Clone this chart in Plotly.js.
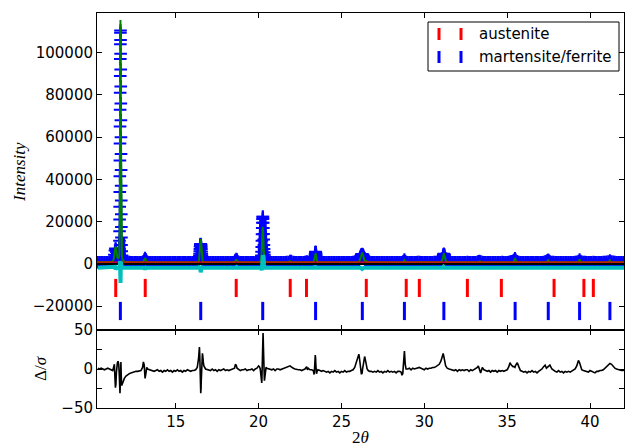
<!DOCTYPE html>
<html>
<head>
<meta charset="utf-8">
<script src="https://cdn.plot.ly/plotly-3.0.1.min.js"></script>
<style>html,body{margin:0;padding:0;background:#fff;}#plot{width:625px;height:447px;}</style>
</head>
<body>
<div id="plot"></div>
<script>
// ---- observed pattern (2theta, intensity) and normalised difference on the same points ----
const tth = [
 10.3,10.4,10.5,10.6,10.7,10.8,10.9,11.0,11.1,11.2,
 11.25,11.3,11.33,11.36,11.39,11.42,11.45,11.48,11.52,11.56,
 11.59,11.600,11.604,11.608,11.612,11.616,11.620,11.624,11.628,11.632,
 11.636,11.640,11.644,11.648,11.652,11.656,11.660,11.664,11.668,11.672,
 11.676,11.680,11.684,11.688,11.692,11.696,11.700,11.704,11.708,11.712,
 11.716,11.720,11.725,11.73,11.74,11.76,11.8,11.85,11.9,12.0,
 12.1,12.2,12.3,12.4,12.5,12.6,12.7,12.8,12.9,13.0,
 13.05,13.1,13.15,13.2,13.25,13.3,13.4,13.5,13.6,13.7,
 13.8,13.9,14.0,14.1,14.2,14.3,14.4,14.5,14.6,14.7,
 14.8,14.9,15.0,15.1,15.2,15.3,15.4,15.5,15.6,15.7,
 15.8,15.9,16.0,16.1,16.2,16.3,
 16.38,16.39,16.40,16.41,16.42,16.43,16.44,16.45,16.46,16.47,
 16.48,16.49,16.50,16.51,16.52,16.53,16.54,16.55,16.56,16.57,
 16.58,16.59,16.60,16.61,16.62,16.63,16.65,16.67,16.70,
 16.8,16.9,17.0,17.1,17.2,17.3,17.4,17.5,17.6,17.7,
 17.8,17.9,18.0,18.1,18.2,18.3,18.4,18.5,18.55,18.6,
 18.65,18.7,18.75,18.8,18.9,19.0,19.1,19.2,19.3,19.4,
 19.5,19.6,19.7,19.8,19.9,20.0,20.05,
 20.10,20.11,20.12,20.13,20.14,20.15,20.16,20.17,20.18,20.19,
 20.20,20.21,20.22,20.23,20.24,20.25,20.26,20.27,20.28,20.29,
 20.30,20.31,20.32,20.33,20.34,20.35,20.36,20.37,20.38,20.39,
 20.40,20.42,20.45,
 20.5,20.6,20.7,20.8,20.9,21.0,21.1,21.2,21.3,
 21.4,21.5,21.6,21.7,21.8,21.9,21.95,22.0,22.1,22.2,
 22.3,22.4,22.5,22.6,22.7,22.8,22.9,22.95,23.0,23.1,
 23.2,
 23.30,23.33,23.35,23.37,23.39,23.40,23.41,23.42,23.43,23.44,
 23.45,23.46,23.47,23.48,23.49,23.51,23.53,23.55,23.58,
 23.7,23.8,23.9,24.0,24.1,24.2,24.3,24.4,24.5,24.6,
 24.7,24.8,24.9,25.0,25.1,25.2,25.3,25.4,25.5,25.6,
 25.7,25.8,25.9,
 26.00,26.025,26.05,26.075,26.10,26.125,26.15,26.175,26.20,26.225,
 26.25,26.275,26.30,26.325,26.35,26.375,26.40,26.425,26.45,26.475,
 26.50,26.55,26.62,
 26.7,26.8,26.9,27.0,
 27.1,27.2,27.3,27.4,27.5,27.6,27.7,27.8,27.9,28.0,
 28.1,28.2,28.3,28.4,28.5,28.6,28.65,28.7,28.75,28.8,
 28.85,28.9,29.0,29.1,29.2,29.3,29.4,29.5,29.6,29.7,
 29.8,29.9,30.0,30.1,30.2,30.3,30.4,30.5,30.6,30.7,
 30.8,30.9,
 31.00,31.03,31.05,31.07,31.09,31.10,31.12,31.14,31.16,31.18,
 31.20,31.22,31.24,31.27,31.29,31.32,31.35,31.38,
 31.5,31.6,31.7,31.8,31.9,32.0,32.1,32.2,32.3,
 32.4,32.5,32.6,32.7,32.8,32.9,33.0,33.1,33.2,33.26,
 33.33,33.4,33.5,33.6,33.7,33.8,33.9,34.0,34.1,34.2,
 34.3,34.4,34.5,34.6,34.7,34.8,34.9,35.0,35.1,35.17,
 35.25,35.35,35.42,35.47,35.52,35.61,35.7,35.8,35.9,36.0,
 36.1,36.2,36.3,36.4,36.5,36.6,36.7,36.8,36.9,37.0,
 37.1,37.2,37.29,37.37,37.43,37.48,37.53,37.58,37.7,37.8,
 37.9,38.0,38.1,38.2,38.3,38.4,38.5,38.6,38.7,38.8,
 38.9,39.0,39.1,39.2,39.3,39.37,39.43,39.5,39.6,39.7,
 39.8,39.9,40.0,40.1,40.2,40.3,40.4,40.5,40.6,40.7,
 40.8,40.9,41.0,41.1,41.2,41.3,41.4,41.5,41.6,41.7,
 41.8,41.9,42.0,42.1
];
const obs = [
 750,800,700,750,800,750,800,850,950,1300,
 2300,4300,6300,7300,7100,5600,4200,3300,3000,3300,
 3500,4000,7000,11000,15500,21000,27000,34000,41500,49000,
 57000,65000,73000,81000,89000,97000,104000,109500,110500,106000,
 99500,92000,84000,76000,68000,60000,52000,44500,37000,30000,
 23500,17500,12500,9000,6000,4000,2500,1700,1300,1000,
 900,850,800,800,750,800,750,800,800,900,
 1200,2000,2800,2200,1300,900,800,750,800,750,
 800,750,800,750,800,800,750,800,750,800,
 750,800,750,800,800,750,800,750,800,750,
 800,800,750,800,850,900,
 1300,1600,2000,2500,3100,3800,4800,6000,7100,8200,
 8800,9200,9400,9300,9100,8800,8000,7000,5900,4800,
 4000,3300,2800,2400,2000,1700,1400,1100,950,
 800,800,750,800,800,750,800,750,800,800,
 750,800,750,800,800,750,800,800,900,1300,
 2300,2000,1100,850,800,750,800,800,750,800,
 750,800,800,750,800,850,900,
 950,1100,1300,1500,1800,2300,3000,4000,5800,8000,
 11000,14000,17000,19500,21300,22300,22300,21500,19500,17000,
 14200,11500,9000,7000,5500,4300,3500,2900,2400,2100,
 1800,1400,1100,
 900,800,750,800,800,750,800,800,750,
 800,800,800,850,900,1300,1400,1000,850,800,
 800,750,800,800,750,850,1100,1000,800,800,
 800,
 900,1200,1500,2200,3200,3900,4600,5200,5500,5700,
 5500,5200,4600,3900,3300,2300,1600,1300,1000,
 800,800,750,800,750,800,800,750,800,750,
 800,800,750,800,750,800,800,750,800,800,
 850,900,1000,
 1100,1300,1600,2000,2500,3000,3600,4000,4400,4600,
 4700,4500,4300,3900,3400,2900,2500,2100,1800,1650,
 1500,1200,900,
 850,800,800,750,
 800,800,750,800,750,800,800,750,800,800,
 750,800,800,750,800,800,800,850,1200,2000,
 1400,900,800,800,750,800,800,800,850,900,
 800,800,750,800,800,750,800,800,850,850,
 900,950,
 1000,1200,1400,1800,2300,2600,3400,4200,4600,4800,
 4600,4200,3500,2400,1900,1400,1200,1000,
 850,800,800,750,800,800,750,800,800,
 750,800,850,800,800,750,800,800,900,1200,
 1300,1100,900,800,800,750,800,800,750,800,
 800,750,800,800,850,800,800,800,850,1000,
 1200,1500,1900,2600,1900,1200,900,800,800,750,
 800,800,750,800,800,750,800,800,750,800,
 800,900,1100,1300,1700,1900,1500,1100,850,900,
 800,800,750,800,800,750,800,800,750,800,
 800,800,850,950,1400,2000,1400,950,900,850,
 800,800,750,800,850,800,800,750,800,800,
 850,900,950,1100,1600,1100,950,850,800,800,
 750,800,800,750
];
const dsig = [
 1,0,1,0,-1,0,1,0,-1,-2,
 2,6,-10,-24,-20,-5,4,8,10,6,
 -5,-8,-12,-16,-20,-23,-26,-28,-30,-31,
 -31,-30,-28,-25,-22,-18,-14,-10,-6,-2,
 2,5,7,9,9,7,4,0,-4,-8,
 -12,-15,-18,-20,-21,-20,-18,-15,-12,-9,
 -7,-6,-5,-4,-4,-3,-3,-2,-2,2,
 9,5,-12,-6,2,0,-1,-2,-2,-3,
 -2,-1,-3,-2,-4,-2,-3,-1,-3,-2,
 -4,-2,-3,-1,-3,-2,-4,-2,-3,-1,
 -2,-3,-2,-2,-1,2,
 14,18,24,26,28,28,24,18,10,0,
 -10,-20,-27,-31,-29,-25,-16,-5,3,10,
 14,18,20,20,19,18,13,8,4,
 0,-1,-1,-2,0,-2,-1,-3,-1,-2,
 -1,0,-2,-1,-2,-1,0,0,1,6,
 5,1,0,-1,-2,-1,-1,0,-2,-1,
 -1,0,-2,0,1,4,3,
 0,-2,-4,-6,-8,-11,-13,-15,-17,-18,
 -14,-5,8,20,32,40,45,46,40,30,
 18,5,-5,-12,-14,-15,-14,-12,-9,-6,
 -4,-1,2,
 1,0,0,-1,0,-2,0,0,-1,
 0,1,1,2,3,4,3,2,1,0,
 -1,-1,-1,-2,-1,0,3,-1,1,-1,
 -1,
 -2,-5,-7,-3,2,8,14,18,17,14,
 8,2,-2,-5,-6,-5,-3,-2,-1,
 -2,-3,-2,-3,-4,-3,-5,-3,-4,-2,
 -4,-3,-5,-3,-4,-2,-4,-3,-3,-2,
 -1,2,8,
 16,18,19,16,10,5,0,-3,-6,-6,
 -5,0,4,8,12,14,16,14,10,6,
 3,0,-2,
 -3,-3,-4,-3,
 -4,-2,-4,-3,-5,-3,-4,-2,-4,-3,
 -4,-3,-5,-3,-3,-4,-8,-6,8,23,
 6,0,0,1,-1,1,0,1,2,2,
 1,0,-1,1,0,1,1,2,2,3,
 4,6,
 10,13,15,17,18,19,20,20,18,15,
 12,10,8,6,4,3,2,1,
 0,-1,-1,-2,-1,-3,-1,-2,-1,
 -2,-1,-1,-3,-1,-2,-1,0,2,4,
 -2,-5,2,-1,-2,-3,-2,-4,-2,-3,
 -2,-4,-2,-3,-2,-3,-2,-1,3,8,
 5,3,3,2,5,8,3,-2,-3,-4,
 -3,-5,-3,-4,-2,-4,-3,-5,-3,-2,
 0,3,5,1,2,3,4,5,0,-2,
 -3,-4,-2,-4,-3,-5,-3,-4,-3,-4,
 -3,-2,0,4,11,8,2,-1,-2,-3,
 -3,-4,-2,-3,-3,-5,-3,-3,-2,-2,
 -1,1,3,5,7,6,3,1,0,-1,
 -2,-2,-2,-1
];

// ---- calculated profile ----
const calcX = [
 10.25,11.0,11.1,11.2,11.25,11.3,11.33,11.36,11.39,11.42,
 11.45,11.48,11.52,11.56,11.59,11.60,11.62,11.64,11.655,11.665,
 11.675,11.69,11.71,11.73,11.76,11.8,11.9,12.0,12.2,12.9,
 13.05,13.1,13.15,13.2,13.25,13.35,16.3,16.4,16.45,16.49,
 16.51,16.53,16.57,16.63,16.72,18.5,18.6,18.65,18.7,18.8,
 20.05,20.14,20.19,20.23,20.25,20.27,20.31,20.36,20.45,20.55,
 21.8,21.9,22.0,22.8,22.9,23.0,23.3,23.35,23.39,23.42,
 23.44,23.46,23.49,23.53,23.6,26.0,26.1,26.15,26.2,26.25,
 26.3,26.35,26.4,26.5,26.55,26.65,28.7,28.75,28.8,28.85,
 28.9,29.65,29.7,29.75,31.0,31.1,31.14,31.18,31.22,31.27,
 31.32,31.4,32.55,32.6,32.65,33.3,33.36,33.42,34.6,34.65,
 34.7,35.4,35.47,35.55,37.4,37.48,37.56,37.78,37.83,37.88,
 39.3,39.37,39.45,39.6,39.63,39.66,41.12,41.2,41.28,42.1
];
const calcY = [
 800,800,850,1200,2000,4300,6800,8000,7800,5800,
 4000,3000,2700,3000,3800,4500,20000,65000,105000,115500,
 105000,65000,25000,8000,3500,2000,1100,850,800,800,
 1100,1800,2700,2000,1100,800,800,1200,5000,11000,
 11800,10500,4200,1100,800,800,1200,2200,1700,800,
 800,1500,6500,16500,17500,15500,7000,2000,850,800,
 800,1300,850,800,1100,800,800,1400,3300,4800,
 5000,4300,2600,1200,800,800,1600,2800,4500,5400,
 4200,2500,1500,1400,1000,800,800,900,1800,1300,
 800,800,1000,800,800,1900,3600,5000,3800,2000,
 1100,800,800,950,800,800,1200,800,800,950,
 800,800,2800,800,800,2000,800,800,1000,800,
 800,2100,800,800,950,800,800,1700,800,800
];

// ---- background ----
const bkgX = [10.25, 42.1];
const bkgY = [800, 800];

// ---- offset difference curve (top panel) ----
const diffX = [
 10.3,11.30,11.34,11.37,11.40,11.44,11.62,11.64,11.65,11.66,
 11.67,11.68,11.69,11.70,11.72,11.75,13.10,13.15,13.20,16.40,
 16.46,16.51,16.56,16.62,18.62,18.67,18.72,20.15,20.19,20.23,
 20.26,20.29,20.33,20.38,23.38,23.42,23.46,23.50,26.15,26.25,
 26.35,31.10,31.16,31.22,42.1
];
const diffY = [
 -1800,-1800,-1400,-2600,-2200,-1800,-1800,1500,-3000,-7000,
 -9000,-4000,1000,-1000,-1800,-1800,-1800,-2600,-1800,-1800,
 -1000,-4000,-1400,-1800,-1800,-1500,-1800,-1800,-3000,1200,
 4000,3500,-400,-1800,-1800,-1000,-1800,-1800,-1800,-2400,
 -1800,-1800,-1300,-1800,-1800
];

// ---- reflection positions ----
const austenite = [11.38,13.16,18.65,21.91,22.89,26.50,28.91,29.70,32.60,34.65,37.83,39.63,40.20];
const ferrite = [11.66,16.51,20.25,23.44,26.26,28.80,31.18,33.38,35.48,37.48,39.37,41.20];

const yTickVals = [-20000,0,20000,40000,60000,80000,100000];
const yTickText = ['\u221220000','0','20000','40000','60000','80000','100000'];
const xTickVals = [15,20,25,30,35,40];
const dTickVals = [-50,-25,0,25,50];
const dTickText = ['\u221250','','0','','50'];
const phaseNames = ['austenite','martensite/ferrite'];

const AUS_OFF = -11400, FER_OFF = -22300;

// dense observed points merge into a solid band; the sparse ladder of the strongest reflection stays as separate crosses
const obsBand = obs.map((v, i) => (tth[i] > 11.598 && tth[i] < 11.722) ? null : v);

const traces = [
  {x: tth, y: obsBand, mode: 'lines', xaxis: 'x', yaxis: 'y', connectgaps: false,
   line: {color: '#0000ff', width: 7}},
  {x: tth, y: obs, mode: 'markers', xaxis: 'x', yaxis: 'y',
   marker: {symbol: 'cross-thin-open', size: 9, color: '#0000ff', line: {color: '#0000ff', width: 2}}},
  {x: calcX, y: calcY, mode: 'lines', xaxis: 'x', yaxis: 'y', line: {color: '#008000', width: 2}},
  {x: bkgX, y: bkgY, mode: 'lines', xaxis: 'x', yaxis: 'y', line: {color: '#ff0000', width: 1.2}},
  {x: bkgX, y: bkgY.map(() => 0), mode: 'lines', xaxis: 'x', yaxis: 'y', line: {color: '#000000', width: 2}},
  {x: diffX, y: diffY, mode: 'lines', xaxis: 'x', yaxis: 'y', line: {color: '#00bfbf', width: 4}},
  {x: austenite, y: austenite.map(() => AUS_OFF), mode: 'markers', xaxis: 'x', yaxis: 'y',
   marker: {symbol: 'line-ns-open', size: 13, color: '#ff0000', line: {color: '#ff0000', width: 3}}},
  {x: ferrite, y: ferrite.map(() => FER_OFF), mode: 'markers', xaxis: 'x', yaxis: 'y',
   marker: {symbol: 'line-ns-open', size: 13, color: '#0000ff', line: {color: '#0000ff', width: 3}}},
  {x: tth, y: dsig, mode: 'lines', xaxis: 'x2', yaxis: 'y2', line: {color: '#000000', width: 1.6}}
];

const W = 625, H = 447, L = 97, R = 1, T = 13, B = 39;
const pw = W - L - R, ph = H - T - B;
const px = v => (v - L) / pw;
const py = v => (H - B - v) / ph;

const axBase = {
  showgrid: false, zeroline: false, showline: true, linecolor: '#000', linewidth: 1,
  ticks: 'inside', ticklen: 5, tickwidth: 1, tickcolor: '#000', mirror: 'ticks',
  tickfont: {family: 'DejaVu Sans', size: 15, color: '#000'}
};

const shapes = [
  {type: 'rect', xref: 'paper', yref: 'paper', x0: px(428), x1: px(619), y0: py(71), y1: py(22),
   line: {color: '#000', width: 1}, fillcolor: '#fff', layer: 'above'},
  {type: 'line', xref: 'paper', yref: 'paper', x0: px(439), x1: px(439), y0: py(40), y1: py(28), line: {color: '#ff0000', width: 3}},
  {type: 'line', xref: 'paper', yref: 'paper', x0: px(461), x1: px(461), y0: py(40), y1: py(28), line: {color: '#ff0000', width: 3}},
  {type: 'line', xref: 'paper', yref: 'paper', x0: px(439), x1: px(439), y0: py(63), y1: py(51), line: {color: '#0000ff', width: 3}},
  {type: 'line', xref: 'paper', yref: 'paper', x0: px(461), x1: px(461), y0: py(63), y1: py(51), line: {color: '#0000ff', width: 3}}
];
const titleFont = {family: 'Liberation Serif', size: 17, color: '#000'};
const annotations = [
  {xref: 'paper', yref: 'paper', x: px(477), y: py(34), text: phaseNames[0], showarrow: false,
   xanchor: 'left', yanchor: 'middle', font: {family: 'DejaVu Sans', size: 15, color: '#000'}},
  {xref: 'paper', yref: 'paper', x: px(477), y: py(57), text: phaseNames[1], showarrow: false,
   xanchor: 'left', yanchor: 'middle', font: {family: 'DejaVu Sans', size: 15, color: '#000'}},
  {xref: 'paper', yref: 'paper', x: px(19), y: py(172), text: '<i>Intensity</i>', textangle: -90, showarrow: false,
   xanchor: 'center', yanchor: 'middle', font: titleFont},
  {xref: 'paper', yref: 'paper', x: px(40), y: py(369), text: 'Δ/<i>σ</i>', textangle: -90, showarrow: false,
   xanchor: 'center', yanchor: 'middle', font: titleFont}
];

const layout = {
  width: W, height: H,
  margin: {l: L, r: R, t: T, b: B, pad: 0},
  paper_bgcolor: '#fff', plot_bgcolor: '#fff',
  showlegend: false,
  font: {family: 'DejaVu Sans', size: 15, color: '#000'},
  xaxis: Object.assign({}, axBase, {domain: [0, 1], anchor: 'y', range: [10.25, 42.05],
    tickvals: xTickVals, showticklabels: false}),
  yaxis: Object.assign({}, axBase, {domain: [py(330), 1], anchor: 'x', range: [-31300, 118800],
    tickvals: yTickVals, ticktext: yTickText}),
  xaxis2: Object.assign({}, axBase, {domain: [0, 1], anchor: 'y2', range: [10.25, 42.05], matches: 'x',
    tickvals: xTickVals,
    title: {text: '2<i>θ</i>', font: titleFont, standoff: 4}}),
  yaxis2: Object.assign({}, axBase, {domain: [0, py(330)], anchor: 'x2', range: [-50, 50],
    tickvals: dTickVals, ticktext: dTickText}),
  shapes: shapes,
  annotations: annotations
};

Plotly.newPlot('plot', traces, layout, {staticPlot: true, displayModeBar: false});
</script>
</body>
</html>
